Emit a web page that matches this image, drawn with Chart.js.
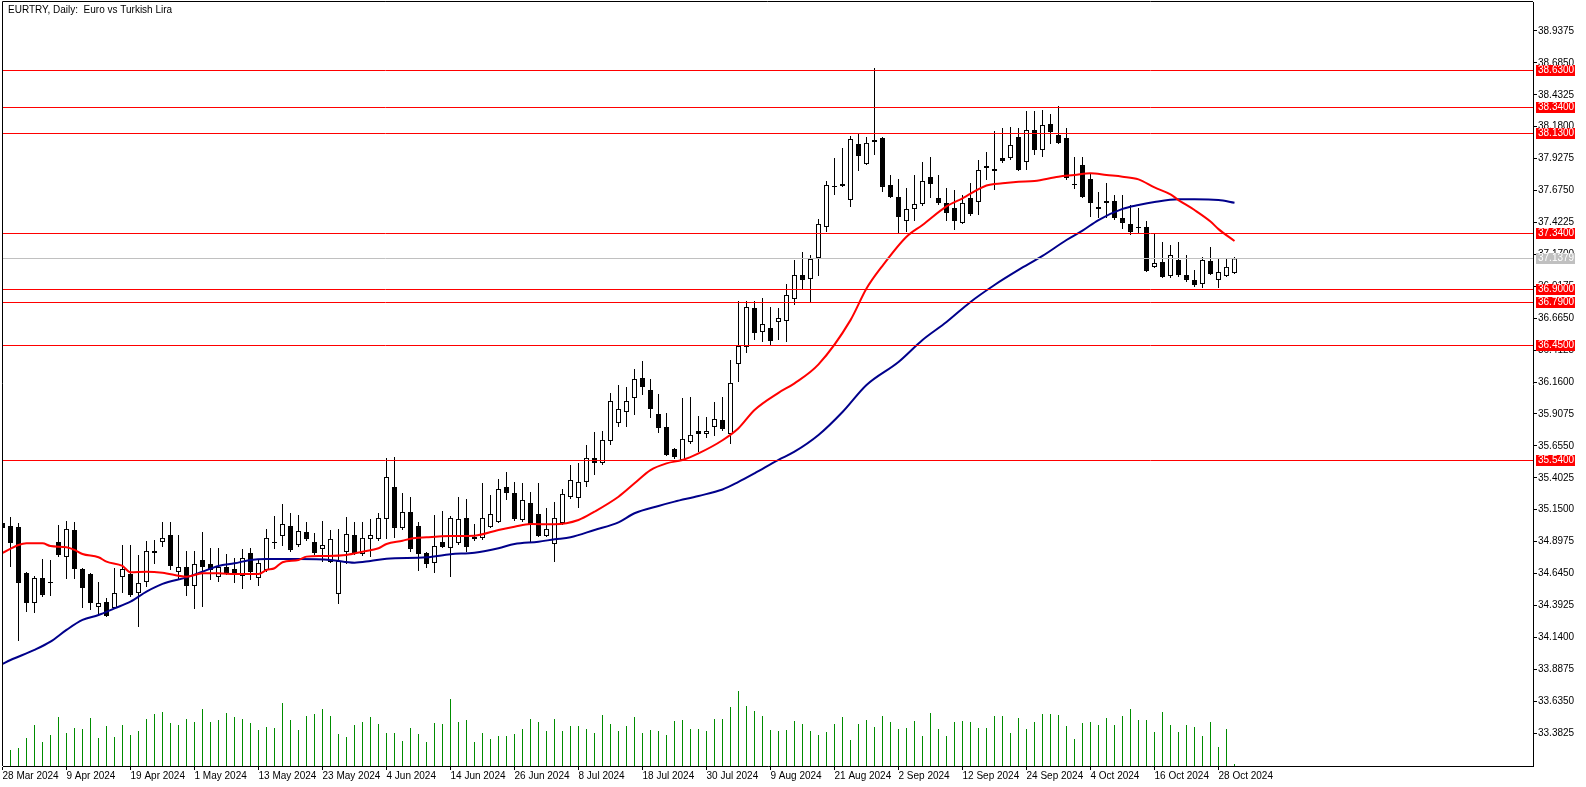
<!DOCTYPE html>
<html>
<head>
<meta charset="utf-8">
<title>EURTRY, Daily</title>
<script src="https://cdn.jsdelivr.net/npm/chart.js@4.4.1/dist/chart.umd.min.js"></script>
<style>
  html, body { margin: 0; padding: 0; background: #fff; }
  #wrap { position: relative; width: 1586px; height: 787px; }
</style>
</head>
<body>
<div id="wrap"><canvas id="chart"></canvas></div>
<script>
// Daily candles, 28 Mar 2024 .. 30 Oct 2024 (bar index = trading day)
const opens = [
  35.045,35.021,35.013,34.650,34.412,34.610,34.571,34.895,34.776,34.990,
  34.681,34.642,34.381,34.420,34.373,34.618,34.642,34.491,34.578,34.824,
  34.895,34.950,34.658,34.697,34.547,34.753,34.721,34.618,34.697,34.681,
  34.626,34.808,34.610,34.673,34.895,34.942,35.021,34.871,34.974,34.895,
  34.840,34.737,34.484,34.816,34.950,34.800,34.919,34.919,35.077,35.330,
  35.006,35.132,35.021,34.808,34.729,34.895,34.848,34.887,35.085,34.919,
  34.927,35.013,35.053,35.330,35.283,35.069,35.203,35.116,34.942,34.879,
  35.045,35.251,35.243,35.370,35.560,35.520,35.694,35.836,35.923,36.034,
  36.192,36.097,35.908,35.805,35.631,35.544,35.686,35.773,35.749,35.805,
  35.860,35.749,36.303,36.437,36.746,36.556,36.588,36.635,36.643,36.817,
  37.007,36.976,37.142,37.387,37.712,37.727,37.601,38.044,37.885,38.060,
  38.091,37.719,37.624,37.434,37.529,37.569,37.783,37.616,37.577,37.537,
  37.419,37.616,37.585,37.870,37.846,37.933,37.933,38.099,37.901,38.154,
  37.996,38.202,38.115,38.091,37.727,37.877,37.767,37.545,37.577,37.593,
  37.458,37.411,37.387,37.387,37.071,37.110,36.999,37.126,37.007,36.968,
  36.936,37.118,36.968,36.999,37.023
];
const highs = [
  35.093,35.093,35.045,34.658,34.626,34.760,34.753,35.029,35.061,35.053,
  34.689,34.650,34.578,34.452,34.689,34.871,34.871,34.792,34.903,34.911,
  35.053,35.053,34.950,34.824,34.824,34.974,34.848,34.848,34.800,34.768,
  34.840,34.848,34.760,34.998,35.100,35.196,35.124,35.108,35.053,34.966,
  35.061,34.990,34.998,35.093,35.053,35.053,35.077,35.124,35.560,35.567,
  35.283,35.251,35.053,34.816,35.108,35.140,35.100,35.251,35.235,35.037,
  35.362,35.267,35.393,35.449,35.370,35.362,35.291,35.362,35.164,35.212,
  35.314,35.504,35.520,35.662,35.765,35.773,36.074,36.137,36.121,36.263,
  36.327,36.184,36.066,35.915,35.638,36.034,36.042,35.892,35.884,36.003,
  36.042,36.335,36.801,36.801,36.801,36.825,36.754,36.746,36.936,37.126,
  37.189,37.165,37.450,37.751,37.933,38.012,38.107,38.131,38.099,38.645,
  38.099,37.798,37.767,37.696,37.798,37.901,37.941,37.798,37.696,37.680,
  37.640,37.735,37.917,37.980,38.147,38.170,38.178,38.170,38.305,38.305,
  38.313,38.281,38.344,38.170,37.941,37.941,37.814,37.664,37.735,37.640,
  37.640,37.561,37.537,37.434,37.340,37.268,37.245,37.268,37.165,37.047,
  37.150,37.229,37.134,37.134,37.150
];
const lows = [
  34.911,34.697,34.112,34.341,34.333,34.460,34.468,34.776,34.602,34.602,
  34.373,34.357,34.309,34.301,34.365,34.491,34.460,34.222,34.539,34.721,
  34.855,34.673,34.594,34.468,34.365,34.381,34.594,34.578,34.634,34.571,
  34.523,34.594,34.547,34.658,34.840,34.863,34.816,34.855,34.903,34.792,
  34.737,34.729,34.404,34.721,34.792,34.784,34.776,34.903,34.919,34.927,
  34.990,34.816,34.666,34.689,34.650,34.848,34.618,34.871,34.816,34.903,
  34.911,35.006,35.045,35.227,35.061,35.053,34.887,34.935,34.935,34.737,
  35.029,35.235,35.164,35.330,35.425,35.504,35.662,35.805,35.805,35.900,
  36.058,35.876,35.757,35.575,35.551,35.536,35.670,35.607,35.718,35.734,
  35.773,35.670,36.161,36.390,36.493,36.477,36.453,36.493,36.477,36.770,
  36.889,36.794,36.999,37.348,37.640,37.704,37.545,37.830,37.877,37.957,
  37.664,37.616,37.340,37.348,37.434,37.553,37.616,37.561,37.434,37.363,
  37.411,37.474,37.482,37.759,37.680,37.893,37.917,37.830,37.838,37.957,
  37.941,38.044,38.044,37.759,37.688,37.616,37.466,37.458,37.458,37.442,
  37.371,37.324,37.332,37.031,37.063,36.983,36.983,36.991,36.952,36.912,
  36.904,37.007,36.904,36.991,37.015
];
const closes = [
  35.006,34.887,34.571,34.412,34.610,34.476,34.578,34.792,34.998,34.681,
  34.531,34.412,34.412,34.309,34.491,34.681,34.476,34.571,34.824,34.808,
  34.927,34.705,34.697,34.547,34.721,34.697,34.673,34.697,34.650,34.634,
  34.768,34.658,34.729,34.927,34.887,35.037,34.832,34.982,34.919,34.808,
  34.871,34.919,34.745,34.958,34.808,34.927,34.950,35.085,35.409,35.006,
  35.132,34.840,34.800,34.721,34.863,34.855,35.085,35.077,34.855,34.935,
  35.085,35.116,35.314,35.283,35.077,35.227,35.037,34.942,34.998,35.085,
  35.275,35.385,35.370,35.560,35.520,35.702,36.010,35.947,36.010,36.184,
  36.121,35.947,35.797,35.583,35.567,35.710,35.742,35.749,35.773,35.868,
  35.789,36.153,36.445,36.754,36.548,36.619,36.485,36.667,36.849,37.007,
  36.968,37.134,37.411,37.719,37.704,37.712,38.083,37.949,38.052,38.075,
  37.704,37.624,37.466,37.529,37.569,37.751,37.727,37.577,37.498,37.434,
  37.577,37.490,37.838,37.854,37.830,37.909,38.036,37.838,38.154,37.996,
  38.194,38.139,38.052,37.775,37.719,37.624,37.577,37.529,37.593,37.458,
  37.419,37.348,37.379,37.039,37.102,36.991,37.165,37.007,36.968,36.928,
  37.126,37.015,37.031,37.071,37.138
];
const tickVolumes = [
  150,48,54,84,123,72,93,147,99,114,111,
  144,84,120,87,123,93,105,141,156,162,
  129,123,141,132,171,132,138,159,147,141,
  129,108,117,114,189,138,108,150,156,171,
  150,96,87,123,132,147,126,99,99,75,
  114,96,72,129,126,201,132,138,72,99,
  81,90,90,96,111,141,132,105,141,105,
  120,120,111,99,153,126,105,120,147,99,
  108,105,93,135,138,111,111,105,141,141,
  177,225,180,165,150,108,105,108,135,126,
  105,93,102,126,147,78,126,138,117,150,
  132,111,114,135,90,159,111,90,132,135,
  132,114,114,150,150,99,144,111,132,156,
  156,153,120,81,129,132,123,144,123,150,
  171,138,138,102,162,123,102,123,117,90,
  132,57,111,6
];

// moving averages, read at sample bars
const redIdx = [0,2,3,5,6,8,9,10,12,13,15,16,18,20,23,25,27,29,32,33,34,35,37,38,40,43,45,47,48,50,
  51,53,56,59,62,64,66,69,72,74,77,79,81,83,85,87,90,92,94,97,99,102,106,108,110,113,115,118,120,123,
  125,127,129,132,134,136,138,140,142,144,146,147,149,151,152,154];
const redVals = [34.808,34.871,34.884,34.884,34.863,34.853,34.832,34.800,34.774,34.739,
  34.705,34.655,34.660,34.652,34.620,34.647,34.647,34.642,34.642,34.673,
  34.687,34.735,34.753,34.779,34.784,34.792,34.818,34.845,34.879,34.905,
  34.921,34.932,34.942,34.945,34.990,35.016,35.037,35.035,35.069,35.135,
  35.253,35.359,35.464,35.517,35.544,35.596,35.700,35.795,35.939,36.075,
  36.150,36.300,36.650,36.900,37.080,37.310,37.403,37.550,37.614,37.715,
  37.733,37.745,37.751,37.785,37.798,37.812,37.798,37.785,37.764,37.700,
  37.645,37.600,37.521,37.430,37.370,37.276];
const blueIdx = [0,1,4,6,8,10,12,14,16,18,20,23,25,27,29,31,33,37,41,44,46,48,53,56,59,62,64,67,69,71,
  74,77,79,82,84,87,90,92,94,97,99,102,105,108,112,115,118,121,124,127,130,133,135,137,140,142,144,147,149,152,154];
const blueVals = [33.930,33.961,34.041,34.106,34.199,34.278,34.317,34.370,34.423,34.502,
  34.563,34.615,34.660,34.705,34.726,34.753,34.760,34.760,34.753,34.731,
  34.745,34.763,34.774,34.798,34.810,34.845,34.879,34.897,34.916,34.932,
  34.990,35.050,35.122,35.180,35.214,35.259,35.310,35.370,35.438,35.545,
  35.609,35.741,35.923,36.137,36.319,36.493,36.635,36.794,36.928,37.047,
  37.158,37.284,37.358,37.442,37.530,37.561,37.585,37.606,37.606,37.601,
  37.579];

const xTickIdx = [0,8,16,24,32,40,48,56,64,72,80,88,96,104,112,120,128,136,144,152];
const xLabels = ['28 Mar 2024','9 Apr 2024','19 Apr 2024','1 May 2024','13 May 2024','23 May 2024',
  '4 Jun 2024','14 Jun 2024','26 Jun 2024','8 Jul 2024','18 Jul 2024','30 Jul 2024','9 Aug 2024',
  '21 Aug 2024','2 Sep 2024','12 Sep 2024','24 Sep 2024','4 Oct 2024','16 Oct 2024','28 Oct 2024'];
const yTicks = [33.3825,33.6350,33.8875,34.1400,34.3925,34.6450,34.8975,35.1500,35.4025,35.6550,
  35.9075,36.1600,36.4125,36.6650,36.9175,37.1700,37.4225,37.6750,37.9275,38.1800,38.4325,38.6850,38.9375];
const levels = [38.63, 38.34, 38.13, 37.34, 36.90, 36.79, 36.45, 35.54];
const lastPrice = 37.1379;
const title = 'EURTRY, Daily:  Euro vs Turkish Lira';

Chart.defaults.font.family = '"Liberation Sans", Arial, sans-serif';
Chart.defaults.font.size = 10;
Chart.defaults.color = '#000';

const bodies = opens.map((o, i) => ({ x: i, y: [o, closes[i]] }));
const wicks = lows.map((l, i) => ({ x: i, y: [l, highs[i]] }));
const bodyFill = opens.map((o, i) => closes[i] >= o ? '#ffffff' : '#000000');
const vols = tickVolumes.map((v, i) => ({ x: i, y: v }));

function tagBox(ctx, py, text, bg) {
    ctx.fillStyle = bg;
    ctx.fillRect(1536, py - 5, 39, 11);
    ctx.fillStyle = '#fff';
    ctx.textAlign = 'left';
    ctx.textBaseline = 'middle';
    ctx.fillText(text, 1538, py + 0.5);
}

const levelsPlugin = {
    id: 'levels',
    afterDatasetsDraw(chart) {
        const { ctx, chartArea: a } = chart;
        const y = chart.scales.y;
        ctx.save();
        ctx.lineWidth = 1;
        const hline = (v, color) => {
            const py = Math.round(y.getPixelForValue(v)) + 0.5;
            ctx.strokeStyle = color;
            ctx.beginPath();
            ctx.moveTo(a.left, py);
            ctx.lineTo(a.right, py);
            ctx.stroke();
        };
        hline(lastPrice, '#c0c0c0');
        levels.forEach(v => hline(v, '#ff0000'));
        ctx.restore();
    },
    afterDraw(chart) {
        const { ctx, chartArea: a } = chart;
        const y = chart.scales.y;
        ctx.save();
        // frame
        ctx.strokeStyle = '#000';
        ctx.lineWidth = 1;
        ctx.beginPath();
        ctx.moveTo(a.left - 0.5, a.bottom);
        ctx.lineTo(a.left - 0.5, a.top - 0.5);
        ctx.lineTo(a.right, a.top - 0.5);
        ctx.stroke();
        // title
        ctx.font = '10px "Liberation Sans", Arial, sans-serif';
        ctx.fillStyle = '#000';
        ctx.textBaseline = 'alphabetic';
        ctx.fillText(title, 8, 13);
        // price tags
        tagBox(ctx, Math.round(y.getPixelForValue(lastPrice)), lastPrice.toFixed(4), '#c0c0c0');
        levels.forEach(v => tagBox(ctx, Math.round(y.getPixelForValue(v)), v.toFixed(4), '#ff0000'));
        ctx.restore();
    }
};

new Chart(document.getElementById('chart'), {
    type: 'bar',
    data: {
        datasets: [
            {
                type: 'line', label: 'MA fast', data: redIdx.map((x, k) => ({ x, y: redVals[k] })),
                borderColor: '#ff0000', borderWidth: 2, pointRadius: 0,
                cubicInterpolationMode: 'monotone', order: 1
            },
            {
                type: 'line', label: 'MA slow', data: blueIdx.map((x, k) => ({ x, y: blueVals[k] })),
                borderColor: '#00008b', borderWidth: 2, pointRadius: 0,
                cubicInterpolationMode: 'monotone', order: 1
            },
            {
                label: 'body', data: bodies, backgroundColor: bodyFill, borderColor: '#000',
                borderWidth: 1, borderSkipped: false, barThickness: 5, grouped: false,
                inflateAmount: 0, order: 2
            },
            {
                label: 'wick', data: wicks, backgroundColor: '#000', borderWidth: 0,
                barThickness: 1, grouped: false, inflateAmount: 0, order: 3
            },
            {
                label: 'volume', data: vols, yAxisID: 'yVol', backgroundColor: '#008c00',
                borderWidth: 0, barThickness: 1, grouped: false, inflateAmount: 0, order: 4
            }
        ]
    },
    options: {
        responsive: true,
        maintainAspectRatio: false,
        animation: false,
        layout: { padding: { left: 3, top: 2, right: 0, bottom: 0 } },
        plugins: { legend: { display: false }, tooltip: { enabled: false } },
        scales: {
            x: {
                type: 'linear',
                offset: false,
                min: 0.0625,
                max: 191.3125,
                grid: { display: true, offset: false, drawOnChartArea: false, drawTicks: true, tickLength: 4, color: '#000' },
                border: { display: true, color: '#000', width: 1 },
                ticks: {
                    autoSkip: false, maxRotation: 0, align: 'start', padding: 0,
                    callback: (v) => {
                        const k = xTickIdx.indexOf(v);
                        return k >= 0 ? xLabels[k] : '';
                    }
                },
                afterBuildTicks: (s) => { s.ticks = xTickIdx.map(v => ({ value: v })); },
                afterFit: (s) => { s.height = 21; s.paddingLeft = 0; s.paddingRight = 0; }
            },
            y: {
                position: 'right',
                min: 33.1226,
                max: 39.1669,
                grid: { display: true, drawOnChartArea: false, drawTicks: true, tickLength: 4, color: '#000' },
                border: { display: true, color: '#000', width: 1 },
                ticks: { padding: 1, callback: (v) => Number(v).toFixed(4) },
                afterBuildTicks: (s) => { s.ticks = yTicks.map(v => ({ value: v })); },
                afterFit: (s) => { s.width = 53; s.paddingTop = 0; s.paddingBottom = 0; }
            },
            yVol: {
                display: false,
                min: 0,
                max: 2292
            }
        }
    },
    plugins: [levelsPlugin]
});
</script>
</body>
</html>
